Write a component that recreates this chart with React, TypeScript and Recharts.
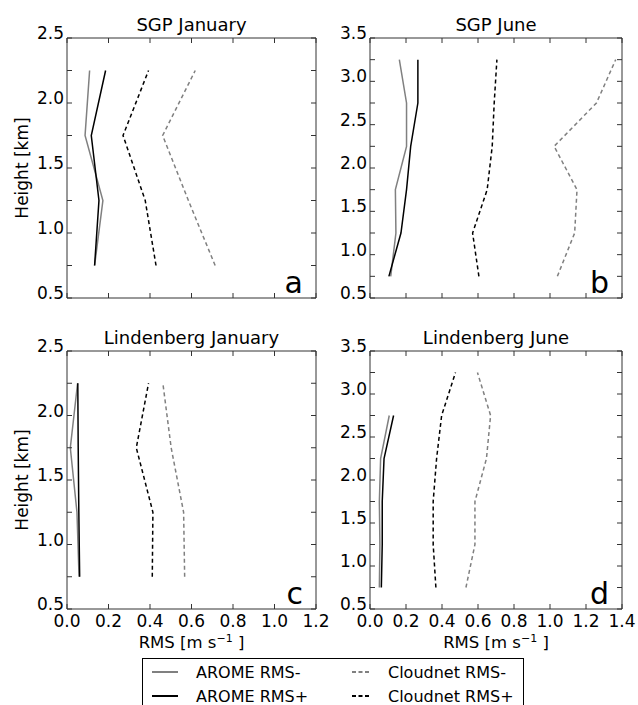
import React from "react";
import { LineChart, Line, XAxis, YAxis } from "recharts";

// heights of the profile levels [km]
const janHeights = [0.75, 1.25, 1.75, 2.25];
const junHeights = [0.75, 1.25, 1.75, 2.25, 2.75, 3.25];
const linJunAromeHeights = [0.75, 1.25, 1.75, 2.25, 2.75];

// SGP January
const sgpJanAromeMinus = [0.133, 0.173, 0.087, 0.109];
const sgpJanAromePlus = [0.133, 0.154, 0.117, 0.186];
const sgpJanCloudMinus = [0.714, 0.585, 0.461, 0.618];
const sgpJanCloudPlus = [0.429, 0.377, 0.27, 0.393];

// SGP June
const sgpJunAromeMinus = [0.115, 0.144, 0.141, 0.203, 0.203, 0.163];
const sgpJunAromePlus = [0.105, 0.172, 0.203, 0.226, 0.266, 0.266];
const sgpJunCloudMinus = [1.041, 1.137, 1.15, 1.023, 1.258, 1.365];
const sgpJunCloudPlus = [0.605, 0.57, 0.651, 0.679, 0.69, 0.705];

// Lindenberg January
const linJanAromeMinus = [0.058, 0.048, 0.016, 0.051];
const linJanAromePlus = [0.061, 0.057, 0.054, 0.052];
const linJanCloudMinus = [0.567, 0.562, 0.502, 0.462];
const linJanCloudPlus = [0.411, 0.414, 0.334, 0.393];

// Lindenberg June
const linJunAromeMinus = [0.052, 0.055, 0.052, 0.059, 0.107];
const linJunAromePlus = [0.063, 0.068, 0.068, 0.078, 0.131];
const linJunCloudMinus = [0.533, 0.583, 0.583, 0.647, 0.67, 0.597];
const linJunCloudPlus = [0.366, 0.351, 0.351, 0.37, 0.398, 0.475];

// ticks (y: marks every 0.25, labels every 0.5)
const xTicksJan = [0, 0.2, 0.4, 0.6, 0.8, 1.0, 1.2];
const xTicksJun = [0, 0.2, 0.4, 0.6, 0.8, 1.0, 1.2, 1.4];
const yTicksJan = [0.5, 0.75, 1.0, 1.25, 1.5, 1.75, 2.0, 2.25, 2.5];
const yTicksJun = [0.5, 0.75, 1.0, 1.25, 1.5, 1.75, 2.0, 2.25, 2.5, 2.75, 3.0, 3.25, 3.5];

const FONT = "DejaVu Sans";
const GRAY = "#808080";
const FRAME = "#333";
const TL = 5; // inward tick length

const pts = (xs: number[], hs: number[]) => xs.map((x, i) => ({ x, h: hs[i] }));

type Rect = { x0: number; x1: number; y0: number; y1: number };

// tickSize/tickMargin are 0, so x/y of each tick sits on the frame;
// the renderers draw the inward mark and (optionally) the label
const isHalf = (v: number) => Math.abs(v * 2 - Math.round(v * 2)) < 1e-6;

const LeftTick = (p: any) => {
  const v = Number(p.payload.value);
  return (
    <g>
      <line x1={p.x} x2={p.x + TL} y1={p.y} y2={p.y} stroke={FRAME} />
      {isHalf(v) && (
        <text x={p.x - 3} y={p.y + 1} textAnchor="end" fontSize={17} fontFamily={FONT} fill="#000">
          {v.toFixed(1)}
        </text>
      )}
    </g>
  );
};

const RightTick = (p: any) => <line x1={p.x - TL} x2={p.x} y1={p.y} y2={p.y} stroke={FRAME} />;

const TopTick = (p: any) => <line x1={p.x} x2={p.x} y1={p.y} y2={p.y + TL} stroke={FRAME} />;

const makeBottomTick = (showLabel: boolean) => (p: any) => (
  <g>
    <line x1={p.x} x2={p.x} y1={p.y} y2={p.y - TL} stroke={FRAME} />
    {showLabel && (
      <text x={p.x} y={p.y + 18} textAnchor="middle" fontSize={17} fontFamily={FONT} fill="#000">
        {Number(p.payload.value).toFixed(1)}
      </text>
    )}
  </g>
);

function Panel(props: {
  rect: Rect;
  xMax: number;
  xTicks: number[];
  yMax: number;
  yTicks: number[];
  showX: boolean;
  aromeMinus: { x: number; h: number }[];
  aromePlus: { x: number; h: number }[];
  cloudMinus: { x: number; h: number }[];
  cloudPlus: { x: number; h: number }[];
}) {
  const { rect, xMax, xTicks, yMax, yTicks, showX } = props;
  // plot area sits 60px from the left, 40px from the top of each chart
  const width = rect.x1 - rect.x0 + 60 + 20;
  const height = rect.y1 - rect.y0 + 40 + 70;
  const xDom = [0, xMax];
  const yDom = [0.5, yMax];
  const common = { type: "number" as const, interval: 0, allowDataOverflow: true, tickSize: 0, tickMargin: 0, tickLine: false, axisLine: { stroke: FRAME } };
  return (
    <div style={{ position: "absolute", left: rect.x0 - 60, top: rect.y0 - 40 }}>
      <LineChart width={width} height={height} margin={{ top: 39, left: 10, right: 19, bottom: 30 }}>
        <XAxis {...common} dataKey="x" domain={xDom} ticks={xTicks} height={40} tick={makeBottomTick(showX)} />
        <XAxis {...common} xAxisId="top" orientation="top" dataKey="x" domain={xDom} ticks={xTicks} height={1} tick={TopTick} />
        <YAxis {...common} dataKey="h" domain={yDom} ticks={yTicks} width={50} tick={LeftTick} />
        <YAxis {...common} yAxisId="right" orientation="right" dataKey="h" domain={yDom} ticks={yTicks} width={1} tick={RightTick} />
        <Line data={props.cloudMinus} dataKey="h" type="linear" stroke={GRAY} strokeWidth={1.5} strokeDasharray="4 3"
          dot={false} activeDot={false} isAnimationActive={false} />
        <Line data={props.cloudPlus} xAxisId="top" yAxisId="right" dataKey="h" type="linear" stroke="#000" strokeWidth={1.5}
          strokeDasharray="4 3" dot={false} activeDot={false} isAnimationActive={false} />
        <Line data={props.aromeMinus} dataKey="h" type="linear" stroke={GRAY} strokeWidth={1.5}
          dot={false} activeDot={false} isAnimationActive={false} />
        <Line data={props.aromePlus} dataKey="h" type="linear" stroke="#000" strokeWidth={1.5}
          dot={false} activeDot={false} isAnimationActive={false} />
      </LineChart>
    </div>
  );
}

const rectA: Rect = { x0: 67, x1: 316, y0: 38, y1: 298 };
const rectB: Rect = { x0: 370, x1: 622, y0: 38, y1: 298 };
const rectC: Rect = { x0: 67, x1: 316, y0: 351, y1: 609 };
const rectD: Rect = { x0: 370, x1: 622, y0: 351, y1: 609 };

const panels = [
  { rect: rectA, title: "SGP January", letter: "a" },
  { rect: rectB, title: "SGP June", letter: "b" },
  { rect: rectC, title: "Lindenberg January", letter: "c" },
  { rect: rectD, title: "Lindenberg June", letter: "d" },
];

const legendItems = [
  { label: "AROME RMS-", color: GRAY, dash: "", col: 0, row: 0 },
  { label: "AROME RMS+", color: "#000", dash: "", col: 0, row: 1 },
  { label: "Cloudnet RMS-", color: GRAY, dash: "4 2.5", col: 1, row: 0 },
  { label: "Cloudnet RMS+", color: "#000", dash: "4 2.5", col: 1, row: 1 },
];

function Overlay() {
  const t = { fontFamily: FONT, fill: "#000" };
  return (
    <svg width={638} height={705} style={{ position: "absolute", left: 0, top: 0, pointerEvents: "none" }}>
      {panels.map((p) => (
        <g key={p.letter}>
          <text {...t} x={(p.rect.x0 + p.rect.x1) / 2} y={p.rect.y0 - 7} textAnchor="middle" fontSize={18}>
            {p.title}
          </text>
          <text {...t} x={p.rect.x1 - 13} y={p.rect.y1 - 5} textAnchor="end" fontSize={30}>
            {p.letter}
          </text>
        </g>
      ))}
      {[rectA, rectC].map((r, i) => {
        const cy = (r.y0 + r.y1) / 2;
        return (
          <text key={i} {...t} x={28} y={cy} transform={`rotate(-90, 28, ${cy})`} textAnchor="middle" fontSize={17}>
            Height [km]
          </text>
        );
      })}
      {[rectC, rectD].map((r, i) => (
        <text key={i} {...t} x={(r.x0 + r.x1) / 2} y={648} textAnchor="middle" fontSize={16.5}>
          RMS [m s
          <tspan dy={-6} fontSize={11}>−1</tspan>
          <tspan dy={6}> ]</tspan>
        </text>
      ))}
      <rect x={142.5} y={658.5} width={381} height={60} fill="#fff" stroke="#000" strokeWidth={1} />
      {legendItems.map((it) => {
        const y = 672 + it.row * 24;
        const lx0 = it.col === 0 ? 152 : 352;
        const lx1 = it.col === 0 ? 178 : 369;
        const tx = it.col === 0 ? 196 : 388;
        return (
          <g key={it.label}>
            <line x1={lx0} x2={lx1} y1={y} y2={y} stroke={it.color} strokeWidth={2} strokeDasharray={it.dash || undefined} />
            <text {...t} x={tx} y={y + 6} fontSize={16}>
              {it.label}
            </text>
          </g>
        );
      })}
    </svg>
  );
}

export default function App() {
  return (
    <div style={{ position: "absolute", left: 0, top: 0, width: 638, height: 705, overflow: "hidden", background: "#fff" }}>
      <Panel rect={rectA} xMax={1.2} xTicks={xTicksJan} yMax={2.5} yTicks={yTicksJan} showX={false}
        aromeMinus={pts(sgpJanAromeMinus, janHeights)} aromePlus={pts(sgpJanAromePlus, janHeights)}
        cloudMinus={pts(sgpJanCloudMinus, janHeights)} cloudPlus={pts(sgpJanCloudPlus, janHeights)} />
      <Panel rect={rectB} xMax={1.4} xTicks={xTicksJun} yMax={3.5} yTicks={yTicksJun} showX={false}
        aromeMinus={pts(sgpJunAromeMinus, junHeights)} aromePlus={pts(sgpJunAromePlus, junHeights)}
        cloudMinus={pts(sgpJunCloudMinus, junHeights)} cloudPlus={pts(sgpJunCloudPlus, junHeights)} />
      <Panel rect={rectC} xMax={1.2} xTicks={xTicksJan} yMax={2.5} yTicks={yTicksJan} showX={true}
        aromeMinus={pts(linJanAromeMinus, janHeights)} aromePlus={pts(linJanAromePlus, janHeights)}
        cloudMinus={pts(linJanCloudMinus, janHeights)} cloudPlus={pts(linJanCloudPlus, janHeights)} />
      <Panel rect={rectD} xMax={1.4} xTicks={xTicksJun} yMax={3.5} yTicks={yTicksJun} showX={true}
        aromeMinus={pts(linJunAromeMinus, linJunAromeHeights)} aromePlus={pts(linJunAromePlus, linJunAromeHeights)}
        cloudMinus={pts(linJunCloudMinus, junHeights)} cloudPlus={pts(linJunCloudPlus, junHeights)} />
      <Overlay />
    </div>
  );
}
